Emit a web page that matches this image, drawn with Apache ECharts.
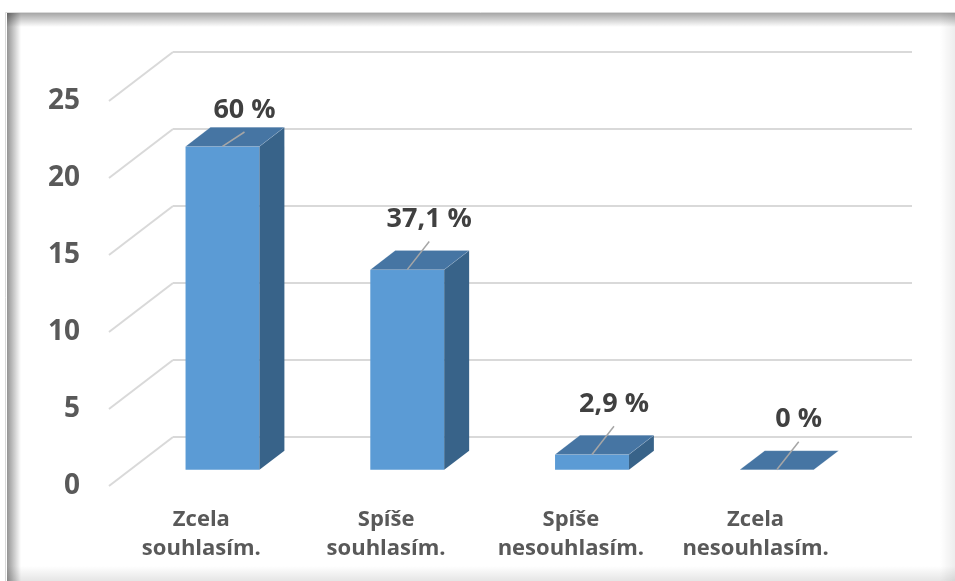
<!DOCTYPE html>
<html>
<head>
<meta charset="utf-8">
<script src="https://cdn.jsdelivr.net/npm/echarts@6/dist/echarts.min.js"></script>
<style>
  html, body { margin: 0; padding: 0; background: #ffffff; }
  #chart { width: 955px; height: 581px; }
</style>
</head>
<body>
<div id="chart"></div>
<script>
// Answers and how many respondents chose each one
const categories = ['Zcela\nsouhlasím.', 'Spíše\nsouhlasím.', 'Spíše\nnesouhlasím.', 'Zcela\nnesouhlasím.'];
const counts = [21, 13, 1, 0];
const yTicks = [0, 5, 10, 15, 20, 25];

const total = counts.reduce((a, b) => a + b, 0);
function pctLabel(v) {
  const p = Math.round(v / total * 1000) / 10;
  return String(p).replace('.', ',') + ' %';
}

// Pseudo-3D geometry: offset from the back wall to the front edge of the floor
const DX = -64, DY = 49;
const T_FRONT = 0.67, T_BACK = 0.28;   // depth of the bar front / back faces
const BAR_RATIO = 0.4;                 // bar width relative to category band
const LABEL_SHIFT = 22;                // data label sits up and to the right of the bar

const COLORS = { front: '#5B9BD5', top: '#4675A3', side: '#386389' };
const FONT = '"Open Sans", "Noto Sans", sans-serif';

const chart = echarts.init(document.getElementById('chart'), null, { renderer: 'canvas' });

function renderBar(params, api) {
  const i = api.value(0), v = api.value(1);
  const top = api.coord([i, v]);
  const base = api.coord([i, 0]);
  const w = api.size([1, 0])[0] * BAR_RATIO;
  const fx = T_FRONT * DX, fy = T_FRONT * DY;
  const bx = (T_BACK - T_FRONT) * DX, by = (T_BACK - T_FRONT) * DY;
  const cx = top[0] + fx;
  const x0 = cx - w / 2, x1 = x0 + w;
  const yT = top[1] + fy, yB = base[1] + fy;
  const children = [];
  if (yB - yT > 0.5) {
    children.push({
      type: 'rect',
      shape: { x: x0, y: yT, width: w, height: yB - yT },
      style: { fill: COLORS.front }
    });
    children.push({
      type: 'polygon',
      shape: { points: [[x1, yT], [x1, yB], [x1 + bx, yB + by], [x1 + bx, yT + by]] },
      style: { fill: COLORS.side }
    });
  }
  children.push({
    type: 'polygon',
    shape: { points: [[x0, yT], [x1, yT], [x1 + bx, yT + by], [x0 + bx, yT + by]] },
    style: { fill: COLORS.top, stroke: 'rgba(255,255,255,0.25)', lineWidth: 0.6 }
  });
  const lx = cx + LABEL_SHIFT;
  const ly = Math.max(yT + by - 31, params.coordSys.y + 58);
  children.push({
    type: 'line',
    shape: { x1: cx, y1: yT, x2: lx, y2: ly + 22 },
    style: { stroke: '#A6A6A6', lineWidth: 1.5 }
  });
  children.push({
    type: 'text',
    x: lx, y: ly,
    style: {
      text: pctLabel(v),
      fill: '#404040',
      font: 'bold 27px ' + FONT,
      align: 'center',
      verticalAlign: 'middle'
    }
  });
  return { type: 'group', children };
}

function renderDiagonal(params, api) {
  const p = api.coord([0, api.value(1)]);
  const x = params.coordSys.x;
  return {
    type: 'line',
    shape: { x1: x, y1: p[1], x2: x + DX, y2: p[1] + DY },
    style: { stroke: '#D9D9D9', lineWidth: 2 }
  };
}

const option = {
  backgroundColor: '#ffffff',
  animation: false,
  graphic: [
    { type: 'rect', z: -10, shape: { x: 5.5, y: 12.5, width: 960, height: 580 },
      style: { fill: '#ffffff', stroke: '#DADADA', lineWidth: 1 } },
    { type: 'rect', z: -9, shape: { x: 7, y: 13, width: 14, height: 568 },
      style: { fill: new echarts.graphic.LinearGradient(0, 0, 1, 0, [
        { offset: 0, color: 'rgba(0,0,0,0.42)' }, { offset: 1, color: 'rgba(0,0,0,0)' }]) } },
    { type: 'rect', z: -9, shape: { x: 7, y: 13, width: 948, height: 14 },
      style: { fill: new echarts.graphic.LinearGradient(0, 0, 0, 1, [
        { offset: 0, color: 'rgba(0,0,0,0.35)' }, { offset: 1, color: 'rgba(0,0,0,0)' }]) } },
    { type: 'rect', z: -9, shape: { x: 940, y: 13, width: 15, height: 568 },
      style: { fill: new echarts.graphic.LinearGradient(0, 0, 1, 0, [
        { offset: 0, color: 'rgba(0,0,0,0)' }, { offset: 1, color: 'rgba(0,0,0,0.07)' }]) } },
    { type: 'rect', z: -9, shape: { x: 7, y: 566, width: 948, height: 15 },
      style: { fill: new echarts.graphic.LinearGradient(0, 0, 0, 1, [
        { offset: 0, color: 'rgba(0,0,0,0)' }, { offset: 1, color: 'rgba(0,0,0,0.10)' }]) } }
  ],
  grid: [
    // back wall
    { left: 173, top: 52, width: 739, height: 385 },
    // front edge of the floor
    { left: 109, top: 101, width: 739, height: 385 }
  ],
  xAxis: [
    { type: 'category', gridIndex: 0, data: categories, show: false },
    { type: 'category', gridIndex: 1, data: categories,
      axisLine: { show: false }, axisTick: { show: false },
      axisLabel: { interval: 0, margin: 19, color: '#595959', fontFamily: FONT,
        fontWeight: 'bold', fontSize: 22, lineHeight: 29 } }
  ],
  yAxis: [
    { type: 'value', gridIndex: 0, min: 0, max: 25, interval: 5,
      axisLine: { show: false }, axisTick: { show: false }, axisLabel: { show: false },
      splitLine: { lineStyle: { color: '#D9D9D9', width: 2 } } },
    { type: 'value', gridIndex: 1, min: 0, max: 25, interval: 5,
      axisLine: { show: false }, axisTick: { show: false }, splitLine: { show: false },
      axisLabel: { margin: 29, color: '#595959', fontFamily: FONT,
        fontWeight: 'bold', fontSize: 28 } }
  ],
  series: [
    { type: 'custom', xAxisIndex: 0, yAxisIndex: 0, silent: true, z: 1,
      data: yTicks.map(v => [0, v]), encode: { x: 0, y: 1 },
      renderItem: renderDiagonal },
    { type: 'custom', xAxisIndex: 0, yAxisIndex: 0, silent: true, z: 3,
      data: counts.map((v, i) => [i, v]), encode: { x: 0, y: 1 },
      renderItem: renderBar }
  ]
};

chart.setOption(option);
</script>
</body>
</html>
